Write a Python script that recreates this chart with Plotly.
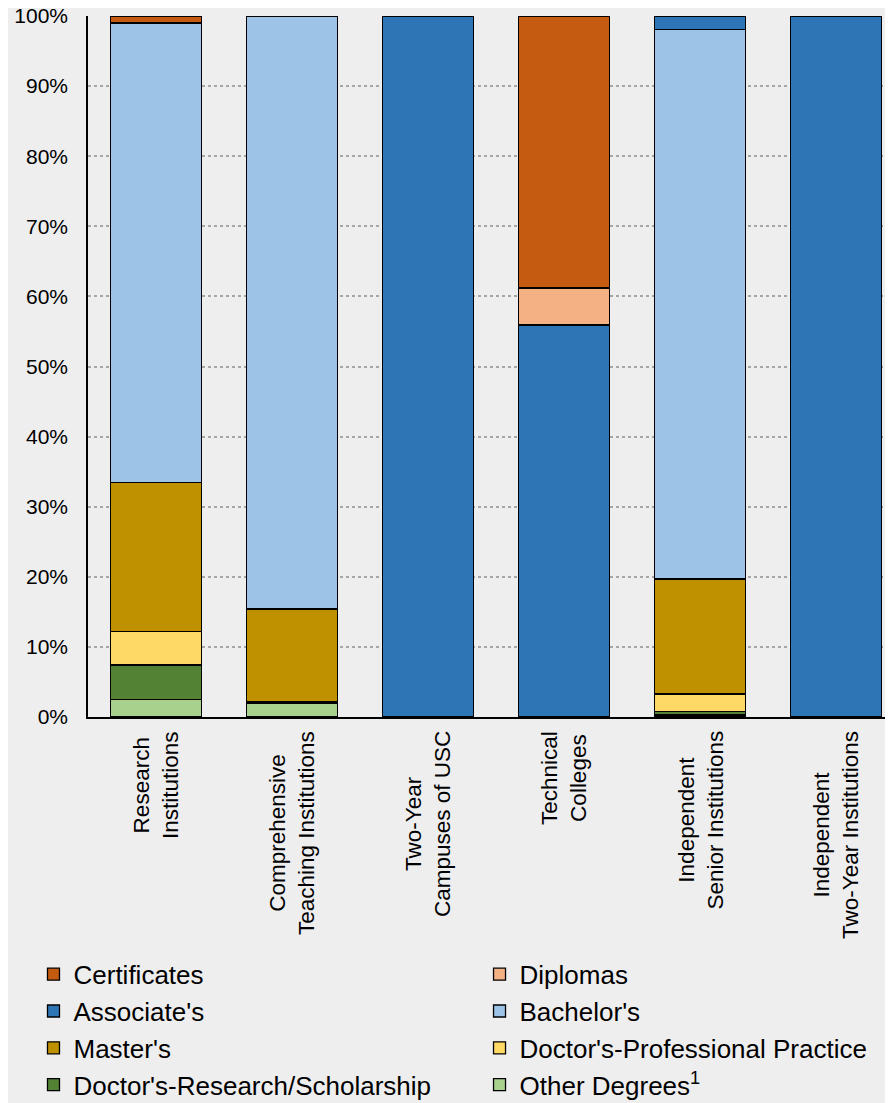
import plotly.graph_objects as go

categories = ["Research<br>Institutions", "Comprehensive<br>Teaching Institutions",
              "Two-Year<br>Campuses of USC", "Technical<br>Colleges",
              "Independent<br>Senior Institutions", "Independent<br>Two-Year Institutions"]

# stacking order bottom -> top
series_names = ["Other Degrees<sup>1</sup>", "Doctor's-Research/Scholarship",
                "Doctor's-Professional Practice", "Master's", "Bachelor's",
                "Associate's", "Diplomas", "Certificates"]
other_degrees = [2.5, 1.95, None, None, 0.3, None]
doctor_research = [4.9, None, None, None, 0.45, None]
doctor_professional = [4.8, 0.2, None, None, 2.55, None]
masters = [21.3, 13.25, None, None, 16.4, None]
bachelors = [65.5, 84.6, None, None, 78.4, None]
associates = [None, None, 100.0, 55.9, 1.9, 100.0]
diplomas = [None, None, None, 5.3, None, None]
certificates = [1.0, None, None, 38.8, None, None]
series_values = [other_degrees, doctor_research, doctor_professional, masters,
                 bachelors, associates, diplomas, certificates]
colors = ["#A9D18E", "#548235", "#FFD966", "#BF9000", "#9DC3E6", "#2E75B6",
          "#F4B183", "#C55A11"]
# legend column for each series (0 = left, 1 = right)
legend_column = [1, 0, 1, 0, 1, 0, 1, 0]
y_ticks = list(range(0, 101, 10))
y_tick_labels = [f"{v}%" for v in y_ticks]

FONT = "Liberation Sans, Arial, sans-serif"
fig = go.Figure()
n = len(series_names)
for i, (name, vals, col, lc) in enumerate(zip(series_names, series_values, colors, legend_column)):
    fig.add_trace(go.Bar(
        x=categories, y=vals, name=name,
        marker=dict(color=col, line=dict(color="black", width=1.3)),
        width=0.665, legendrank=n - i,
        legend="legend" if lc == 0 else "legend2",
    ))

for cat in categories:
    fig.add_annotation(x=cat, y=0, xref="x", yref="paper", text=cat,
                       textangle=-90, showarrow=False, xanchor="center",
                       yanchor="top", yshift=-12, align="center",
                       font=dict(family=FONT, size=22.5, color="black"))

legend_common = dict(orientation="v", xref="container", yref="container",
                     y=0.139, xanchor="left", yanchor="top", traceorder="normal",
                     font=dict(family=FONT, size=26, color="black"),
                     bgcolor="rgba(0,0,0,0)")

fig.update_layout(
    width=885, height=1095,
    barmode="stack",
    paper_bgcolor="#EEEEEE", plot_bgcolor="#EEEEEE",
    margin=dict(l=80, r=0, t=7.5, b=385.7, pad=0, autoexpand=False),
    font=dict(family=FONT, size=21, color="black"),
    showlegend=True,
    legend=dict(x=0.0288, **legend_common),
    legend2=dict(x=0.5328, **legend_common),
    xaxis=dict(range=[-0.5, 5.419], showticklabels=False, showgrid=False,
               showline=True, linecolor="black", linewidth=1.5, ticks="",
               fixedrange=True, automargin=False),
    yaxis=dict(range=[0, 100], tickvals=y_ticks, ticktext=y_tick_labels,
               showline=True, linecolor="black", linewidth=1.5,
               showgrid=True, gridcolor="#A6A6A6", gridwidth=2, griddash="dot",
               ticks="outside", ticklen=14, tickcolor="rgba(0,0,0,0)",
               tickfont=dict(family=FONT, size=21, color="black"),
               ticklabeloverflow="allow", zeroline=False, automargin=False),
)
fig.write_html("out.html")
